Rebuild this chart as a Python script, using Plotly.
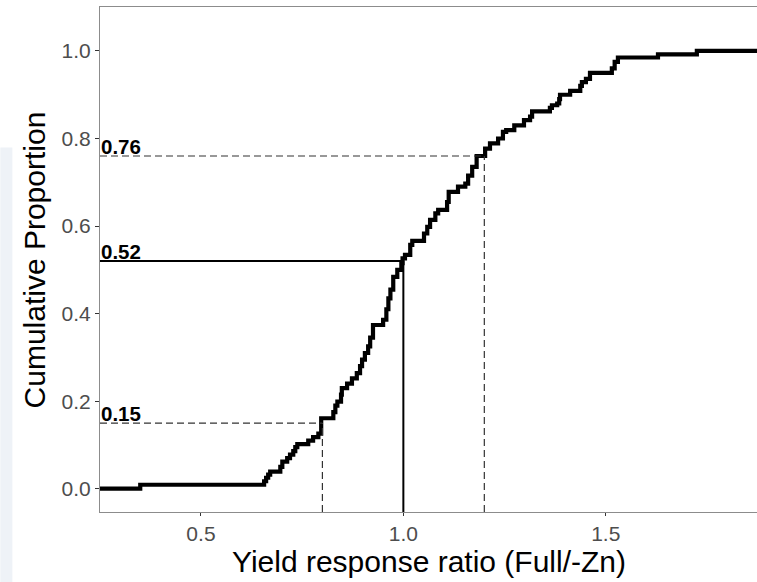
import plotly.graph_objects as go

# ECDF of the yield response ratio: jump locations and cumulative proportion after each jump
ratio_steps = [0.350, 0.656, 0.661, 0.666, 0.671, 0.696, 0.701, 0.713, 0.720, 0.728,
               0.733, 0.738, 0.765, 0.777, 0.790, 0.797, 0.827, 0.832, 0.837, 0.846,
               0.848, 0.861, 0.873, 0.885, 0.893, 0.898, 0.905, 0.913, 0.918, 0.925,
               0.950, 0.958, 0.963, 0.968, 0.975, 0.985, 0.995, 0.998, 1.004, 1.017,
               1.022, 1.051, 1.059, 1.066, 1.079, 1.086, 1.108, 1.112, 1.135, 1.153,
               1.160, 1.170, 1.181, 1.202, 1.214, 1.234, 1.246, 1.254, 1.274, 1.298,
               1.313, 1.318, 1.362, 1.367, 1.380, 1.385, 1.387, 1.412, 1.437, 1.441,
               1.451, 1.461, 1.515, 1.522, 1.530, 1.629, 1.725]
cum_prop = [0.009, 0.017, 0.025, 0.032, 0.039, 0.050, 0.062, 0.070, 0.078, 0.086,
            0.095, 0.102, 0.110, 0.118, 0.126, 0.161, 0.175, 0.190, 0.199, 0.215,
            0.230, 0.240, 0.252, 0.264, 0.280, 0.295, 0.310, 0.325, 0.345, 0.374,
            0.386, 0.410, 0.435, 0.455, 0.484, 0.500, 0.515, 0.526, 0.534, 0.557,
            0.566, 0.583, 0.598, 0.614, 0.629, 0.637, 0.655, 0.678, 0.690, 0.697,
            0.715, 0.735, 0.760, 0.777, 0.789, 0.800, 0.815, 0.819, 0.830, 0.842,
            0.850, 0.862, 0.870, 0.876, 0.880, 0.890, 0.900, 0.909, 0.920, 0.929,
            0.936, 0.950, 0.960, 0.975, 0.985, 0.992, 1.000]

# Reference thresholds: ratio and the cumulative proportion read at it
ref_ratio = [0.8, 1.0, 1.2]
ref_prop = [0.15, 0.52, 0.76]
ref_label = ["0.15", "0.52", "0.76"]
ref_dash = ["7px,4px", "solid", "7px,4px"]

x_ticks = [0.5, 1.0, 1.5]
y_ticks = [0.0, 0.2, 0.4, 0.6, 0.8, 1.0]
X_RANGE = [0.2506, 1.8736]
Y_RANGE = [-0.0532, 1.1004]

X_TITLE = "Yield response ratio (Full/-Zn)"
Y_TITLE = "Cumulative Proportion"

FONT = "Liberation Sans, Arial, sans-serif"

fig = go.Figure()

# reference segments from the left edge to the threshold, then down to the bottom
shapes = []
for rx, ry, dash in zip(ref_ratio, ref_prop, ref_dash):
    solid = dash == "solid"
    col = "#000000" if solid else "#333333"
    w = 2 if solid else 1.2
    shapes.append(dict(type="line", xref="x", yref="y", x0=X_RANGE[0], x1=rx, y0=ry, y1=ry,
                       line=dict(color=col, width=w, dash=dash), layer="above"))
    shapes.append(dict(type="line", xref="x", yref="y", x0=rx, x1=rx, y0=Y_RANGE[0], y1=ry,
                       line=dict(color=col, width=w, dash=dash), layer="above"))

# light panel strip at the page's left edge
shapes.append(dict(type="rect", xref="paper", yref="paper", x0=-0.1517, x1=-0.1334,
                   y0=-0.14, y1=0.722, fillcolor="#eef2f7", line=dict(width=0), layer="below"))

# empirical CDF drawn as a step line, padded to the panel edges
ecdf_x = [X_RANGE[0] - 0.1] + ratio_steps + [X_RANGE[1] + 0.1]
ecdf_y = [0.0] + cum_prop + [cum_prop[-1]]
fig.add_trace(go.Scatter(x=ecdf_x, y=ecdf_y, mode="lines", line_shape="hv",
                         line=dict(color="black", width=4.2), hoverinfo="skip",
                         showlegend=False))

annotations = []
for ry, lab in zip(ref_prop, ref_label):
    annotations.append(dict(x=X_RANGE[0], y=ry, xref="x", yref="y", text="<b>" + lab + "</b>",
                            showarrow=False, xanchor="left", yanchor="bottom",
                            xshift=-1, yshift=-4,
                            font=dict(family=FONT, size=20.5, color="black")))

# axis titles placed as paper annotations
annotations.append(dict(x=0.5, y=-0.099, xref="paper", yref="paper", text=X_TITLE,
                        showarrow=False, xanchor="center", yanchor="middle",
                        font=dict(family=FONT, size=30, color="black")))
annotations.append(dict(x=-0.099, y=0.5, xref="paper", yref="paper", text=Y_TITLE,
                        showarrow=False, xanchor="center", yanchor="middle", textangle=-90,
                        font=dict(family=FONT, size=30, color="black")))

fig.update_layout(
    width=757, height=582,
    margin=dict(l=100, r=0, t=7, b=70),
    paper_bgcolor="white", plot_bgcolor="white",
    showlegend=False,
    shapes=shapes,
    annotations=annotations,
    xaxis=dict(range=X_RANGE, tickvals=x_ticks, ticktext=[f"{v:.1f}" for v in x_ticks],
               showgrid=False, zeroline=False, showline=True, linecolor="#8c8c8c",
               linewidth=1, mirror=True, ticks="outside", ticklen=3, tickcolor="#333333",
               tickfont=dict(family=FONT, size=21, color="#4d4d4d")),
    yaxis=dict(range=Y_RANGE, tickvals=y_ticks, ticktext=[f"{v:.1f}" for v in y_ticks],
               showgrid=False, zeroline=False, showline=True, linecolor="#8c8c8c",
               linewidth=1, mirror=False, ticks="outside", ticklen=4, tickcolor="#333333",
               tickfont=dict(family=FONT, size=21, color="#4d4d4d")),
)

fig.write_html("out.html")
